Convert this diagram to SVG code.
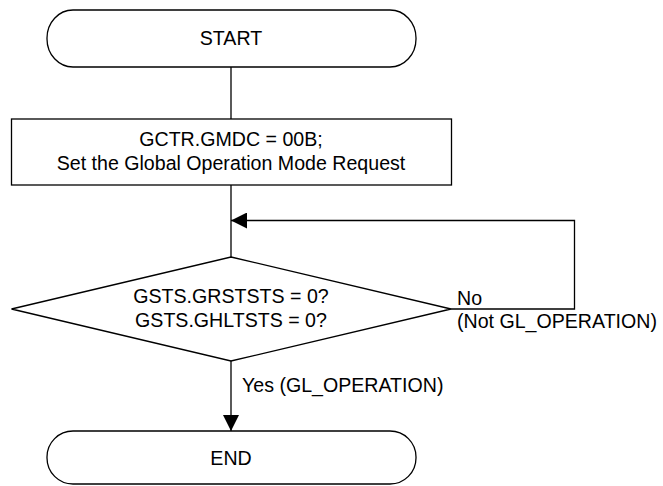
<svg xmlns="http://www.w3.org/2000/svg" width="663" height="486" viewBox="0 0 663 486">
<style>
.s{fill:#fff;stroke:#000;stroke-width:1.3}
.c{fill:none;stroke:#000;stroke-width:1.3}
text{font-family:"Liberation Sans",Arial,sans-serif;font-size:19.6px;fill:#000}
.m{text-anchor:middle}
</style>
<defs>
<marker id="ah" viewBox="0 0 16 16" refX="16" refY="8" markerWidth="16" markerHeight="16" markerUnits="userSpaceOnUse" orient="auto">
<path d="M0,0 L16,8 L0,16 Z" fill="#000"/>
</marker>
</defs>
<g id="connectors">
<line class="c" x1="231" y1="67" x2="231" y2="119"/>
<line class="c" x1="231" y1="185" x2="231" y2="257"/>
<polyline class="c" points="451,309 574.5,309 574.5,220.5 231,220.5" marker-end="url(#ah)"/>
<line class="c" x1="231" y1="361" x2="231" y2="431" marker-end="url(#ah)"/>
<text x="457" y="305">No</text>
<text x="457" y="328">(Not GL_OPERATION)</text>
<text x="242" y="392">Yes (GL_OPERATION)</text>
</g>
<g id="start">
<rect class="s" x="47" y="10" width="369" height="57" rx="26" ry="28"/>
<text class="m" x="231" y="45">START</text>
</g>
<g id="process">
<rect class="s" x="11.5" y="119" width="440" height="66"/>
<text class="m" x="231" y="146">GCTR.GMDC = 00B;</text>
<text class="m" x="231" y="170">Set the Global Operation Mode Request</text>
</g>
<g id="decision">
<polygon class="s" points="231,257 451,309 231,361 11.5,309"/>
<text class="m" x="231" y="303">GSTS.GRSTSTS = 0?</text>
<text class="m" x="231" y="327">GSTS.GHLTSTS = 0?</text>
</g>
<g id="end">
<rect class="s" x="47" y="431" width="369" height="53" rx="26" ry="26"/>
<text class="m" x="231" y="465">END</text>
</g>
</svg>
